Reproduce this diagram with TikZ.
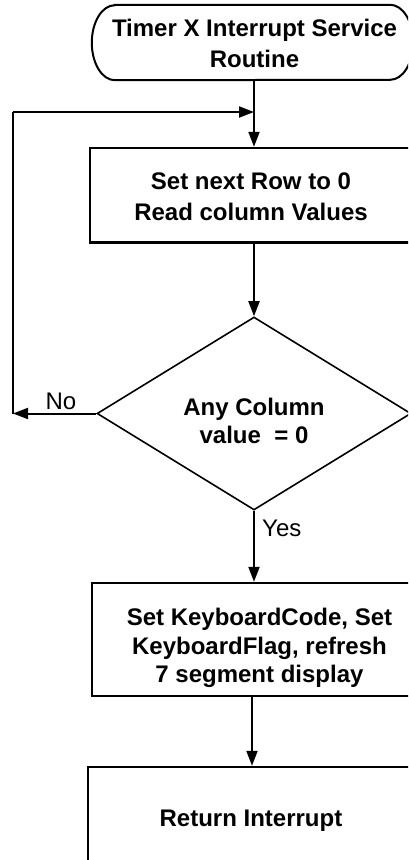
\documentclass[tikz,border=0pt]{standalone}
\usepackage{fontspec}
\setmainfont{Liberation Sans}
\usetikzlibrary{arrows.meta,shapes.geometric}
\begin{document}
\begin{tikzpicture}[x=1pt,y=-1pt,
  line/.style={line width=2pt},
  arr/.style={line width=2pt,-{Triangle[length=15pt,width=11pt]}},
  txt/.style={font=\fontsize{24}{#1}\selectfont\bfseries,align=center,inner sep=0pt},
  txt/.default=28.5,
  boxnode/.style={draw,line width=2.4pt,rectangle,inner sep=0pt},
  lbl/.style={font=\fontsize{24}{28}\selectfont,inner sep=0pt}]
\clip (0,0) rectangle (408,860);
\fill[white] (0,0) rectangle (408,860);
% terminal
\node[minimum width=321pt,minimum height=75pt,inner sep=0pt] (term) at (252.5,42.5) {};
\draw[line] ([xshift=23pt]term.north west) -- ([xshift=-23pt]term.north east)
  arc[start angle=90,end angle=-90,x radius=23pt,y radius=37.5pt]
  -- ([xshift=23pt]term.south west)
  arc[start angle=270,end angle=90,x radius=23pt,y radius=37.5pt] -- cycle;
\node[txt=30.5] (termt) at (254.5,43.5) {Timer X Interrupt Service\\Routine};
% boxes
\node[boxnode,minimum width=328pt,minimum height=94.5pt] (box1) at (254,195.25) {};
\node[txt=31] (box1t) at (251,197) {Set next Row to 0\\Read column Values};
\node[draw,line width=1.6pt,shape=diamond,minimum width=314pt,minimum height=193pt,inner sep=0pt] (dia) at (254,413.5) {};
\node[txt=28] (diat) at (254,420.5) {Any Column\\value\ \ = 0};
\node[boxnode,minimum width=334pt,minimum height=113pt] (box2) at (259,639.5) {};
\node[txt=28.5] (box2t) at (259.5,648) {Set KeyboardCode, Set\\KeyboardFlag, refresh\\7 segment display};
\node[boxnode,minimum width=326pt,minimum height=100pt] (box3) at (251,817) {};
\node[txt] (box3t) at (251,821) {Return Interrupt};
% connectors
\coordinate (lp) at (13,413.5);
\coordinate (lt) at (13,112);
\draw[arr] (box1.north |- term.south) -- (box1.north);
\draw[arr] (box1.south) -- (dia.north);
\draw[arr] (dia.south) -- (dia.south |- box2.north);
\coordinate (b2b) at (252,696);
\draw[arr] (b2b) -- (b2b |- box3.north);
\draw[arr] (dia.west) -- (lp);
\draw[line] (lp) -- (lt);
\draw[arr] (lt) -- (lt -| box1.north);
% labels
\node[lbl] (no) at (61,401) {No};
\node[lbl,anchor=west] (yes) at (262,528) {Yes};
\end{tikzpicture}
\end{document}
